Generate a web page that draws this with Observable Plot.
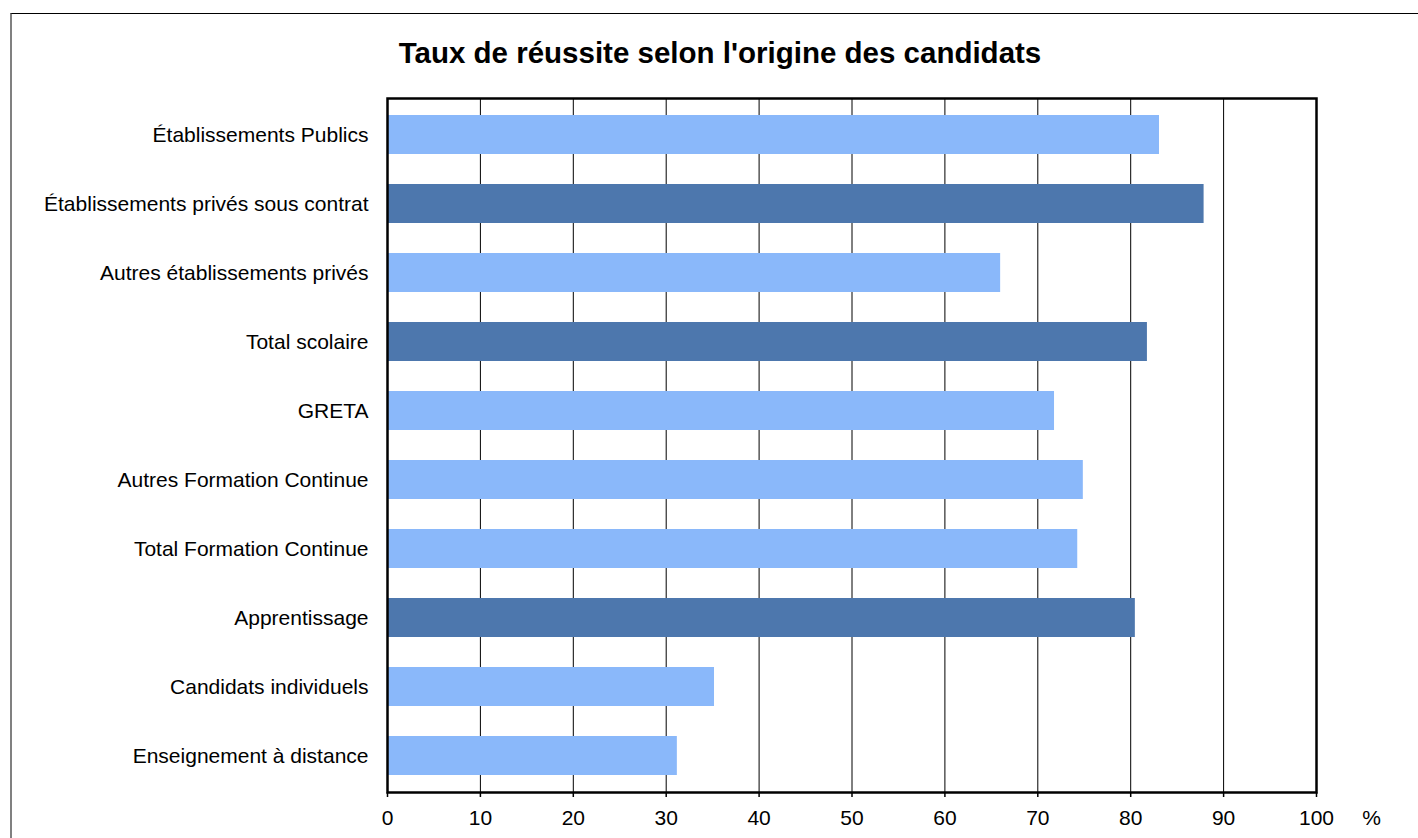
<!DOCTYPE html>
<html>
<head>
<meta charset="utf-8">
<script src="https://cdn.jsdelivr.net/npm/d3@7"></script>
<script src="https://cdn.jsdelivr.net/npm/@observablehq/plot@0.6"></script>
<style>
  html, body { margin: 0; padding: 0; background: #fff; }
  #wrap { position: relative; width: 1418px; height: 838px; overflow: hidden; font-family: "Liberation Sans", Arial, sans-serif; }
  #border { position: absolute; left: 10px; top: 13px; width: 1500px; height: 1000px; border-top: 1.5px solid #000; border-left: 2px solid #808080; box-sizing: border-box; }
  #title { position: absolute; top: 38px; left: 720px; transform: translateX(-50%); font-size: 29.5px; line-height: 29.5px; font-weight: bold; white-space: nowrap; color: #000; }
  #chart { position: absolute; left: 0; top: 88px; }
  #chart svg { display: block; overflow: visible; }
</style>
</head>
<body>
<div id="wrap">
  <div id="border"></div>
  <div id="title">Taux de réussite selon l'origine des candidats</div>
  <div id="chart"></div>
</div>
<script>
const categories = [
  "Établissements Publics",
  "Établissements privés sous contrat",
  "Autres établissements privés",
  "Total scolaire",
  "GRETA",
  "Autres Formation Continue",
  "Total Formation Continue",
  "Apprentissage",
  "Candidats individuels",
  "Enseignement à distance"
];
const values = [83.1, 87.9, 66.0, 81.8, 71.8, 74.9, 74.3, 80.5, 35.2, 31.2];
const groups = ["light", "dark", "light", "dark", "light", "light", "light", "dark", "light", "light"];
const xTicks = [0, 10, 20, 30, 40, 50, 60, 70, 80, 90, 100];
const unitLabel = ["%"];
const groupDomain = ["light", "dark"];
const groupColors = ["#8AB8FA", "#4D77AD"];

const data = categories.map((c, i) => ({category: c, value: values[i], group: groups[i]}));

const chart = Plot.plot({
  width: 1418,
  height: 750,
  marginTop: 10,
  marginBottom: 46,
  marginLeft: 387,
  marginRight: 102,
  style: {fontFamily: "'Liberation Sans', Arial, sans-serif", fontSize: "21px", color: "#000", background: "transparent", overflow: "visible"},
  x: {domain: [0, 100]},
  y: {domain: categories, paddingInner: 0.44, paddingOuter: 0.22},
  color: {domain: groupDomain, range: groupColors},
  marks: [
    Plot.gridX(xTicks, {stroke: "#000", strokeOpacity: 1, strokeWidth: 1}),
    Plot.barX(data, {y: "category", x: "value", fill: "group"}),
    Plot.frame({stroke: "#000", strokeWidth: 2.5}),
    Plot.axisX(xTicks, {tickSize: 5, tickPadding: 13, fontSize: 21, label: null, strokeWidth: 1.5, tickFormat: d => String(d)}),
    Plot.axisY({tickSize: 0, tickPadding: 19, fontSize: 21, label: null}),
    Plot.text(unitLabel, {text: d => d, frameAnchor: "bottom-right", dx: 55, dy: 32, fontSize: 21, textAnchor: "middle"})
  ]
});
document.getElementById("chart").appendChild(chart);
</script>
</body>
</html>
